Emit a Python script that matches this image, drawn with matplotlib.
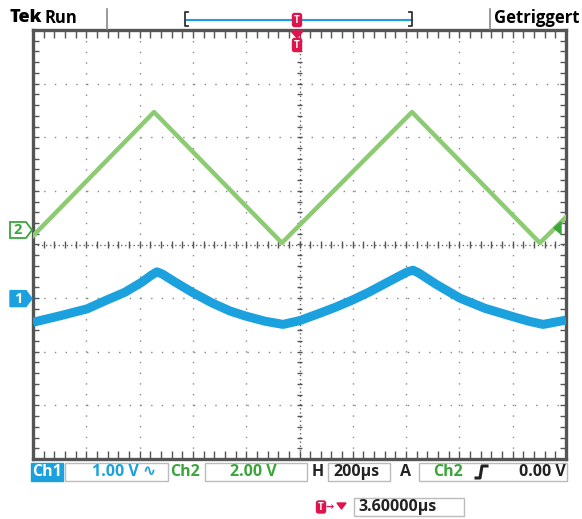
import numpy as np
import matplotlib.pyplot as plt
from matplotlib.patches import Rectangle, Polygon, FancyBboxPatch

# Pantalla del osciloscopio: 200 us/div, 10 div horizontales, 8 verticales
t_div = 200.0
ch1_scale = 1.00   # V/div
ch2_scale = 2.00   # V/div
ch1_offset = -1.0  # div (marcador "1")
ch2_offset = 0.27  # div (marcador "2")

# Ch2: onda triangular (vertices)
ch2_t = [-1000, -546, -66, 422, 902, 1000]
ch2_v = [-0.22, 4.40, -0.48, 4.40, -0.48, 0.48]

# Ch1: respuesta
ch1_t = [-1000, -899, -797, -730, -655, -591, -555, -535, -515, -467, -403, -328, -261,
         -205, -130, -62, 0, 77, 140, 201, 260, 313, 370, 405, 426, 447, 512, 602, 696,
         790, 860, 914, 1000]
ch1_v = [-0.45, -0.33, -0.20, -0.05, 0.11, 0.30, 0.43, 0.49, 0.45, 0.30, 0.11, -0.09,
         -0.24, -0.33, -0.43, -0.49, -0.42, -0.28, -0.16, -0.03, 0.11, 0.25, 0.40,
         0.49, 0.52, 0.47, 0.26, 0.00, -0.19, -0.33, -0.43, -0.49, -0.41]

BLUE = '#1ba1dd'
GREEN = '#8ccb72'
GREEN_TXT = '#3aa63a'
RED = '#e0144c'
FRAME = '#555555'
FONT = 'Open Sans'

fig = plt.figure(figsize=(5.82, 5.19), dpi=100)
fig.patch.set_facecolor('white')

W, H = 582, 519
ax = fig.add_axes([33 / W, (H - 459) / H, 533 / W, 429 / H])
ax.set_xlim(-5 * t_div, 5 * t_div)
ax.set_ylim(-4, 4)
ax.set_xticks([])
ax.set_yticks([])
for s in ax.spines.values():
    s.set_color(FRAME)
    s.set_linewidth(2.4)

# reticula punteada
for k in range(-4, 5):
    if k != 0:
        ax.axvline(k * t_div, color='#888888', lw=1.0, ls=(0, (1, 6.7)), zorder=1)
for k in range(-3, 4):
    if k != 0:
        ax.axhline(k, color='#888888', lw=1.0, ls=(0, (1, 6.7)), zorder=1)
# cruz central
ax.axvline(0, color='#666666', lw=1.0, ls=(0, (1, 2)), zorder=1)
ax.axhline(0, color='#666666', lw=1.0, ls=(0, (1, 2)), zorder=1)

# marcas menores en la cruz central y en el borde
xs_minor = np.arange(-1000, 1001, 40)
ys_minor = np.arange(-4, 4.01, 0.2)
ax.vlines(xs_minor, -0.06, 0.06, color='#555555', lw=1.0, zorder=2)
ax.hlines(ys_minor, -8, 8, color='#555555', lw=1.0, zorder=2)
ax.vlines(xs_minor, 4 - 0.14, 4, color='#555555', lw=1.0, zorder=2)
ax.vlines(xs_minor, -4, -4 + 0.14, color='#555555', lw=1.0, zorder=2)
ax.hlines(ys_minor, -1000, -1000 + 22, color='#555555', lw=1.0, zorder=2)
ax.hlines(ys_minor, 1000 - 22, 1000, color='#555555', lw=1.0, zorder=2)

# trazas
ax.plot(ch2_t, ch2_offset + np.array(ch2_v) / ch2_scale, color=GREEN, lw=3.2,
        solid_joinstyle='round', zorder=3)
ax.plot(ch1_t, ch1_offset + np.array(ch1_v) / ch1_scale, color=BLUE, lw=6.5,
        solid_joinstyle='round', solid_capstyle='butt', zorder=4)

# capa superpuesta en pixeles para los textos del osciloscopio
ov = fig.add_axes([0, 0, 1, 1])
ov.set_xlim(0, W)
ov.set_ylim(H, 0)
ov.axis('off')

# barra superior
ov.text(10, 18, 'Tek', fontsize=13, fontweight='heavy', family=FONT, va='center')
ov.text(45, 18, 'Run', fontsize=12, fontweight='bold', family=FONT, va='center')
ov.plot([107, 107], [9, 29], color='#888888', lw=1.2)
ov.plot([490, 490], [9, 29], color='#888888', lw=1.2)
ov.text(494, 18, 'Getriggert', fontsize=12, fontweight='bold', family=FONT, va='center')
ov.plot([186, 412], [20, 20], color=BLUE, lw=1.5)
ov.plot([188, 185, 185, 188], [12, 12, 26, 26], color='#333333', lw=1.3)
ov.plot([409, 412, 412, 409], [12, 12, 26, 26], color='#333333', lw=1.3)


def t_marker(x, y, h=13, w=9):
    ov.add_patch(FancyBboxPatch((x - w / 2, y - h / 2), w, h,
                                boxstyle='round,pad=0,rounding_size=2',
                                fc=RED, ec=RED, zorder=6))
    ov.text(x, y + 0.5, 'T', color='white', fontsize=7, fontweight='bold',
            family=FONT, ha='center', va='center', zorder=7)


t_marker(297, 20)
ov.add_patch(Polygon([[291, 31], [303, 31], [297, 38]], closed=True, fc=RED, ec=RED, zorder=6))
t_marker(297, 45)

# marcadores de tierra de los canales
y2 = 230
ov.add_patch(Polygon([[10, y2 - 8], [26, y2 - 8], [32, y2], [26, y2 + 8], [10, y2 + 8]],
                     closed=True, fc='white', ec=GREEN_TXT, lw=1.3, zorder=6))
ov.text(18, y2 + 0.5, '2', color=GREEN_TXT, fontsize=10.5, fontweight='bold', family=FONT,
        ha='center', va='center', zorder=7)
y1 = 298.6
ov.add_patch(Polygon([[10, y1 - 8], [26, y1 - 8], [32, y1], [26, y1 + 8], [10, y1 + 8]],
                     closed=True, fc=BLUE, ec=BLUE, lw=1.0, zorder=6))
ov.text(18, y1 + 0.5, '1', color='white', fontsize=10.5, fontweight='bold', family=FONT,
        ha='center', va='center', zorder=7)
# nivel de disparo (derecha)
ov.add_patch(Polygon([[554, 228], [561, 222], [561, 234]], closed=True, fc=GREEN_TXT,
                     ec=GREEN_TXT, zorder=6))

# barra inferior
yb = 472
FS = 11.5
ov.add_patch(Rectangle((31, yb - 9), 32, 18, fc=BLUE, ec=BLUE, zorder=5))
ov.text(47, yb, 'Ch1', color='white', fontsize=FS, fontweight='bold', family=FONT,
        ha='center', va='center', zorder=6)
ov.add_patch(Rectangle((65, yb - 9), 103, 18, fc='white', ec='#bbbbbb', lw=1.0, zorder=5))
ov.text(156, yb, '1.00 V \u223f', color=BLUE, fontsize=FS, fontweight='bold',
        family=[FONT, 'DejaVu Sans'], ha='right', va='center', zorder=6)
ov.text(170, yb, 'Ch2', color=GREEN_TXT, fontsize=FS, fontweight='bold', family=FONT,
        ha='left', va='center', zorder=6)
ov.add_patch(Rectangle((205, yb - 9), 102, 18, fc='white', ec='#bbbbbb', lw=1.0, zorder=5))
ov.text(277, yb, '2.00 V', color=GREEN_TXT, fontsize=FS, fontweight='bold',
        family=FONT, ha='right', va='center', zorder=6)
ov.text(312, yb, 'H', color='#222222', fontsize=FS, fontweight='bold', family=FONT,
        ha='left', va='center', zorder=6)
ov.add_patch(Rectangle((328, yb - 9), 62, 18, fc='white', ec='#bbbbbb', lw=1.0, zorder=5))
ov.text(333, yb, '200\u00b5s', color='#222222', fontsize=FS, fontweight='bold',
        family=FONT, ha='left', va='center', zorder=6)
ov.text(406, yb, 'A', color='#222222', fontsize=FS, fontweight='bold', family=FONT,
        ha='center', va='center', zorder=6)
ov.add_patch(Rectangle((419, yb - 9), 148, 18, fc='white', ec='#bbbbbb', lw=1.0, zorder=5))
ov.text(433, yb, 'Ch2', color=GREEN_TXT, fontsize=FS, fontweight='bold', family=FONT,
        ha='left', va='center', zorder=6)
ov.plot([476, 480, 482, 487], [478, 478, 466, 466], color='#222222', lw=2.2, zorder=6)
ov.text(566, yb, '0.00 V', color='#222222', fontsize=FS, fontweight='bold',
        family=FONT, ha='right', va='center', zorder=6)

# posicion del disparo
yt = 507
t_marker(321, yt, h=12, w=9)
ov.text(330, yt, '\u2192', color=RED, fontsize=7, fontweight='bold',
        family=['DejaVu Sans'], ha='center', va='center', zorder=6)
ov.add_patch(Polygon([[337, yt - 4], [346, yt - 4], [341.5, yt + 2]], closed=True,
                     fc=RED, ec=RED, zorder=6))
ov.add_patch(Rectangle((354, yt - 9), 110, 18, fc='white', ec='#bbbbbb', lw=1.0, zorder=5))
ov.text(358, yt, '3.60000\u00b5s', color='#222222', fontsize=FS, fontweight='bold',
        family=FONT, ha='left', va='center', zorder=6)

fig.savefig('out.png', dpi=100)
